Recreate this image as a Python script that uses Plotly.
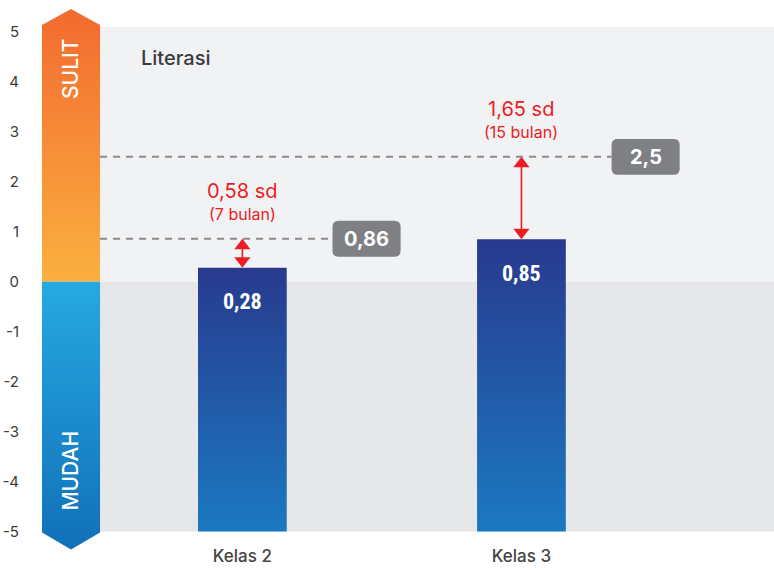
import plotly.graph_objects as go

# ---- data ----
categories = ["Kelas 2", "Kelas 3"]
values = [0.28, 0.85]
value_labels = ["0,28", "0,85"]
targets = [0.86, 2.5]
target_labels = ["0,86", "2,5"]
gap_labels = ["0,58 sd", "1,65 sd"]
gap_sub = ["(7 bulan)", "(15 bulan)"]
y_ticks = [5, 4, 3, 2, 1, 0, -1, -2, -3, -4, -5]
y_tick_text = ["5", "4", "3", "2", "1", "0", "-1", "-2", "-3", "-4", "-5"]
panel_title = "Literasi"
band_labels = ["SULIT", "MUDAH"]

# ---- layout constants ----
X_RANGE = [-0.718, 1.905]
Y_RANGE = [-5.37, 5.5]
BAND_X0, BAND_X1 = -0.718, -0.51
BAND_XM = (BAND_X0 + BAND_X1) / 2
BAR_HW = 0.159
BOX_DX, BOX_HW, BOX_HH = 0.445, 0.122, 0.36
RX, RY = 0.022, 0.12
RED = "#ec1c24"
FONT = "Inter"

xpos = list(range(len(categories)))
fig = go.Figure()

# background bands
shapes = [
    dict(type="rect", xref="x", yref="y", x0=BAND_X1, x1=X_RANGE[1], y0=0, y1=5.1,
         fillcolor="#f1f2f4", line_width=0, layer="below"),
    dict(type="rect", xref="x", yref="y", x0=BAND_X1, x1=X_RANGE[1], y0=-5, y1=0,
         fillcolor="#e6e7e9", line_width=0, layer="below"),
]

# left difficulty arrows
fig.add_trace(go.Scatter(
    x=[BAND_X0, BAND_X0, BAND_XM, BAND_X1, BAND_X1, BAND_X0],
    y=[0, 5.14, 5.46, 5.14, 0, 0], mode="lines", line_width=0, fill="toself",
    fillgradient=dict(type="vertical", colorscale=[[0, "#fbb040"], [1, "#f26a2f"]]),
    hoverinfo="skip", showlegend=False))
fig.add_trace(go.Scatter(
    x=[BAND_X0, BAND_X0, BAND_XM, BAND_X1, BAND_X1, BAND_X0],
    y=[0, -5.02, -5.36, -5.02, 0, 0], mode="lines", line_width=0, fill="toself",
    fillgradient=dict(type="vertical", colorscale=[[0, "#1170b8"], [1, "#26a9e1"]]),
    hoverinfo="skip", showlegend=False))

annotations = [
    dict(x=BAND_XM, y=4.26, xref="x", yref="y", text=band_labels[0], textangle=-90,
         showarrow=False, font=dict(family=FONT, size=21, color="white", weight=500)),
    dict(x=BAND_XM, y=-3.78, xref="x", yref="y", text=band_labels[1], textangle=-90,
         showarrow=False, font=dict(family=FONT, size=21, color="white", weight=500)),
    dict(x=-0.37, y=4.48, xref="x", yref="y", text=panel_title, xanchor="left",
         showarrow=False, font=dict(family=FONT, size=20, color="#3a3a3c", weight=500)),
]

# bars (gradient filled)
for i, v in zip(xpos, values):
    fig.add_trace(go.Scatter(
        x=[i - BAR_HW, i - BAR_HW, i + BAR_HW, i + BAR_HW, i - BAR_HW],
        y=[-5, v, v, -5, -5], mode="lines", line_width=0, fill="toself",
        fillgradient=dict(type="vertical", colorscale=[[0, "#1b79c1"], [1, "#283a8e"]]),
        hoverinfo="skip", showlegend=False))

for i, v, lab in zip(xpos, values, value_labels):
    annotations.append(dict(x=i, y=v - 0.68, xref="x", yref="y", text="<b>" + lab + "</b>",
                            showarrow=False,
                            font=dict(family="Liberation Sans Narrow, Roboto Condensed, Roboto", size=22, color="white")))

# target dashed lines and boxes
for i, t, lab in zip(xpos, targets, target_labels):
    cx = i + BOX_DX
    x0, x1 = cx - BOX_HW, cx + BOX_HW
    y0, y1 = t - BOX_HH, t + BOX_HH
    shapes.append(dict(type="line", xref="x", yref="y", x0=BAND_X1, x1=x0, y0=t, y1=t,
                       line=dict(color="#8b8b8d", width=2, dash="7px,6px")))
    path = (f"M {x0+RX},{y0} L {x1-RX},{y0} Q {x1},{y0} {x1},{y0+RY} "
            f"L {x1},{y1-RY} Q {x1},{y1} {x1-RX},{y1} L {x0+RX},{y1} "
            f"Q {x0},{y1} {x0},{y1-RY} L {x0},{y0+RY} Q {x0},{y0} {x0+RX},{y0} Z")
    shapes.append(dict(type="path", xref="x", yref="y", path=path,
                       fillcolor="#7f8083", line_width=0))
    annotations.append(dict(x=cx, y=t, xref="x", yref="y", text="<b>" + lab + "</b>",
                            showarrow=False, font=dict(family=FONT, size=20, color="white")))

# red double arrows and gap labels
for i, v, t, g, s in zip(xpos, values, targets, gap_labels, gap_sub):
    fig.add_trace(go.Scatter(x=[i, i], y=[v + 0.1, t - 0.1], mode="lines",
                             line=dict(color=RED, width=1.6), hoverinfo="skip", showlegend=False))
    fig.add_trace(go.Scatter(x=[i, i], y=[t - 0.14, v + 0.14], mode="markers",
                             marker=dict(symbol=["triangle-up", "triangle-down"], size=14, color=RED),
                             hoverinfo="skip", showlegend=False))
    annotations.append(dict(x=i, y=t + 0.95, xref="x", yref="y", text=g, showarrow=False,
                            font=dict(family=FONT, size=20, color=RED)))
    annotations.append(dict(x=i, y=t + 0.5, xref="x", yref="y", text=s, showarrow=False,
                            font=dict(family=FONT, size=16, color=RED)))

fig.update_layout(
    width=774, height=572,
    margin=dict(l=42, r=0, t=7, b=21.5, autoexpand=False),
    paper_bgcolor="white", plot_bgcolor="white",
    shapes=shapes, annotations=annotations, showlegend=False,
    xaxis=dict(range=X_RANGE, tickvals=xpos, ticktext=categories, showgrid=False,
               zeroline=False, showline=False, ticks="", fixedrange=True,
               automargin=False, ticklabelstandoff=-6,
               tickfont=dict(family=FONT, size=17, color="#444444", weight=500)),
    yaxis=dict(range=Y_RANGE, tickvals=y_ticks, ticktext=y_tick_text, showgrid=False,
               zeroline=False, showline=False, ticks="outside", ticklen=19,
               tickcolor="rgba(0,0,0,0)", fixedrange=True, automargin=False,
               tickfont=dict(family=FONT, size=15, color="#3c3c3c")),
)

fig.write_html("out.html", config={"displayModeBar": False},
               post_script="document.body.style.margin='0';document.body.style.padding='0';")
